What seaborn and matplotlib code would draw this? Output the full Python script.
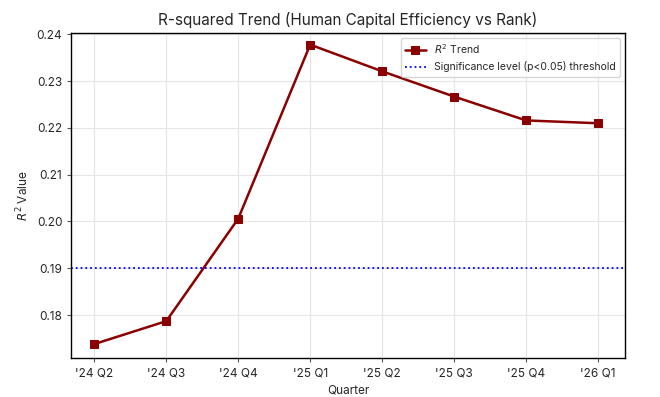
import matplotlib
matplotlib.use("Agg")
import matplotlib.pyplot as plt
import seaborn as sns
import pandas as pd

quarters = ["'24 Q2", "'24 Q3", "'24 Q4", "'25 Q1", "'25 Q2", "'25 Q3", "'25 Q4", "'26 Q1"]
r2_values = [0.1738, 0.1787, 0.2006, 0.2378, 0.2321, 0.2267, 0.2216, 0.2210]
threshold = 0.19

sns.set_style("whitegrid")
plt.rcParams['font.family'] = ['Inter', 'DejaVu Sans']
plt.rcParams['mathtext.fontset'] = 'dejavusans'

df = pd.DataFrame({"Quarter": quarters, "R2": r2_values})

fig, ax = plt.subplots(figsize=(6.6, 3.97), dpi=100)
sns.lineplot(data=df, x="Quarter", y="R2", marker="s", color="#8B0000",
             linewidth=1.8, markersize=5.5, markeredgecolor="#8B0000",
             label="$R^2$ Trend", ax=ax, sort=False)
ax.axhline(threshold, color="blue", linestyle=":", linewidth=1.3,
           label="Significance level (p<0.05) threshold")

ax.set_title("R-squared Trend (Human Capital Efficiency vs Rank)", fontsize=11)
ax.set_xlabel("Quarter", fontsize=8.5)
ax.set_ylabel("$R^2$ Value", fontsize=8.5)
ax.tick_params(axis="both", labelsize=8.5, length=3, width=0.8, color="#555555", direction="out", left=True, bottom=True)
ax.grid(True, color="#e6e6e6", linewidth=0.8)
for s in ax.spines.values():
    s.set_color("black")
    s.set_linewidth(1.0)
ax.set_xlim(-0.32, 7.375)
ax.set_yticks([0.18, 0.19, 0.20, 0.21, 0.22, 0.23, 0.24])
ax.set_yticklabels(["0.18", "0.19", "0.20", "0.21", "0.22", "0.23", "0.24"])
ax.set_ylim(0.1708, 0.2403)
leg = ax.legend(loc="upper right", fontsize=7.5, frameon=True, fancybox=True)
leg.get_frame().set_edgecolor("#cccccc")

fig.subplots_adjust(left=0.108, right=0.947, top=0.917, bottom=0.098)
fig.savefig("out.png", dpi=100)
